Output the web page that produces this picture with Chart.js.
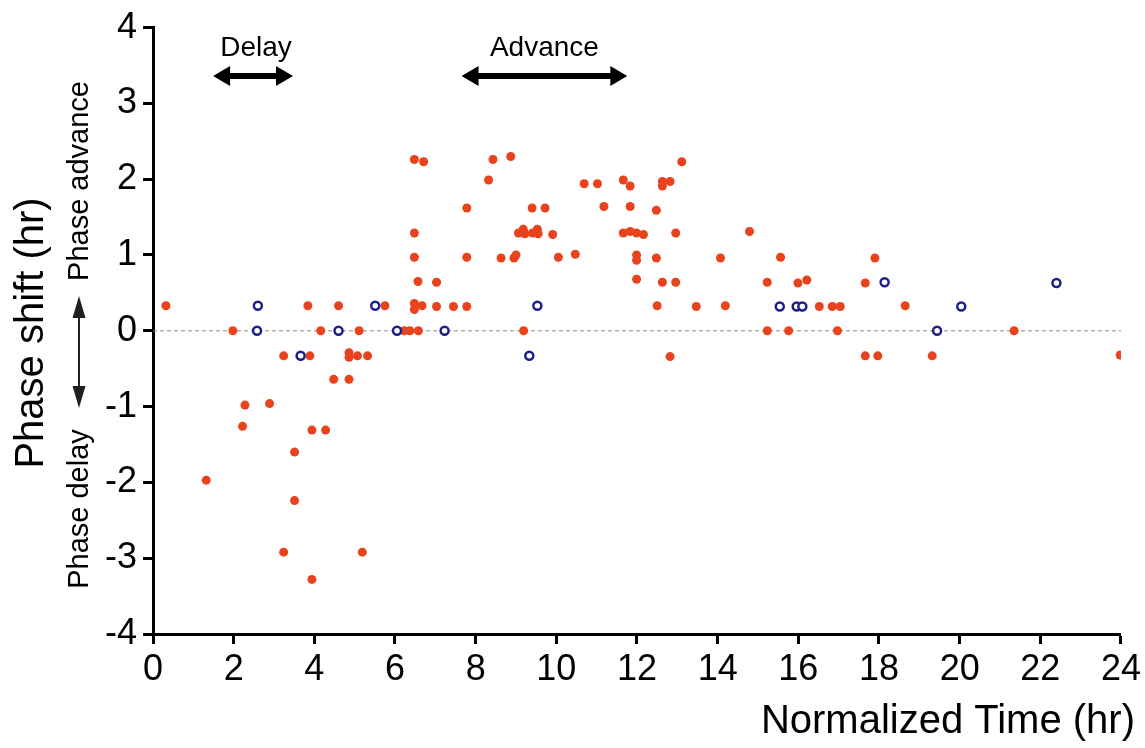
<!DOCTYPE html>
<html>
<head>
<meta charset="utf-8">
<script src="https://cdn.jsdelivr.net/npm/chart.js@4"></script>
<style>
  html, body { margin: 0; padding: 0; background: #fff; }
</style>
</head>
<body>
<canvas id="chart" width="1145" height="748"></canvas>
<script>
// phase shift data (hr)
const redX = [0.32, 1.32, 1.98, 2.22, 2.28, 2.89, 3.24, 3.24, 3.51, 3.51, 3.84, 3.89, 3.94, 3.94, 4.16, 4.28,
  4.48, 4.60, 4.86, 4.86, 4.86, 5.07, 5.11, 5.19, 5.32, 5.75, 6.23, 6.37, 6.58, 6.48, 6.48, 6.67, 6.57, 6.48,
  6.48, 6.48, 6.71, 7.03, 7.03, 7.45, 7.78, 7.78, 7.78, 8.32, 8.43, 8.63, 8.87, 8.95, 9.00, 9.06, 9.18, 9.22,
  9.41, 9.53, 9.55, 9.19, 9.40, 9.72, 9.91, 10.05, 10.47, 10.69, 11.02, 11.18, 11.66, 11.83, 11.83, 11.66,
  11.83, 11.99, 12.16, 11.99, 11.99, 11.99, 12.48, 12.48, 12.50, 12.63, 12.63, 12.82, 12.63, 12.82, 12.96,
  12.96, 13.11, 13.47, 14.07, 14.19, 14.79, 15.23, 15.23, 15.56, 15.76, 15.99, 16.21, 16.52, 16.84, 16.97,
  17.04, 17.66, 17.66, 17.90, 17.97, 18.65, 19.32, 21.35, 23.98];
const redY = [0.33, -1.97, 0, -1.26, -0.98, -0.96, -0.33, -2.92, -1.60, -2.24, 0.33, -0.33, -1.31, -3.28, 0, -1.31,
  -0.64, 0.33, -0.29, -0.35, -0.64, -0.33, 0, -2.92, -0.33, 0.33, 0, 0, 0, 0.36, 0.28, 0.33, 0.65, 0.97,
  1.29, 2.26, 2.23, 0.64, 0.32, 0.32, 0.32, 0.97, 1.62, 1.99, 2.26, 0.96, 2.30, 0.96, 1.00, 1.29, 1.34, 1.28,
  1.29, 1.34, 1.28, 0, 1.62, 1.62, 1.27, 0.97, 1.01, 1.94, 1.94, 1.64, 1.99, 1.91, 1.64, 1.29,
  1.31, 1.29, 1.27, 1.00, 0.93, 0.68, 1.59, 0.96, 0.33, 1.97, 1.91, 1.97, 0.64, -0.34, 1.29,
  0.64, 2.23, 0.32, 0.96, 0.33, 1.31, 0.64, 0, 0.97, 0, 0.63, 0.67, 0.32, 0.32, 0,
  0.32, 0.63, -0.33, 0.96, -0.33, 0.33, -0.33, 0, -0.32];

const blueX = [2.60, 2.58, 3.66, 4.60, 5.51, 6.05, 7.23, 9.33, 9.53, 15.54, 15.96, 16.10, 18.14, 19.44, 20.04, 22.40];
const blueY = [0.33, 0, -0.33, 0, 0.33, 0, 0, -0.33, 0.33, 0.32, 0.32, 0.32, 0.64, 0, 0.32, 0.63];

const xRange = [0, 24];
const yRange = [-4, 4];
const zeroLine = [0, 24];

// annotation arrows over the plot
const delayRange = [1.49, 3.47];
const advanceRange = [7.65, 11.76];
const arrowLevel = 3.36;
const labelLevel = 3.62;

const FONT = "'Liberation Sans', Arial, sans-serif";

function toPoints(xs, ys) {
  return xs.map((x, i) => ({ x: x, y: ys[i] }));
}

function hArrow(ctx, x1, x2, y) {
  const head = 17, half = 10, shaft = 3;
  ctx.beginPath();
  ctx.moveTo(x1, y);
  ctx.lineTo(x1 + head, y - half);
  ctx.lineTo(x1 + head, y - shaft);
  ctx.lineTo(x2 - head, y - shaft);
  ctx.lineTo(x2 - head, y - half);
  ctx.lineTo(x2, y);
  ctx.lineTo(x2 - head, y + half);
  ctx.lineTo(x2 - head, y + shaft);
  ctx.lineTo(x1 + head, y + shaft);
  ctx.lineTo(x1 + head, y + half);
  ctx.closePath();
  ctx.fill();
}

function vArrow(ctx, x, y1, y2) {
  const head = 22, half = 6.5;
  ctx.fillRect(x - 1, y1 + head - 1, 2, y2 - y1 - 2 * head + 2);
  ctx.beginPath();
  ctx.moveTo(x, y1);
  ctx.lineTo(x + half, y1 + head);
  ctx.lineTo(x - half, y1 + head);
  ctx.closePath();
  ctx.fill();
  ctx.beginPath();
  ctx.moveTo(x, y2);
  ctx.lineTo(x + half, y2 - head);
  ctx.lineTo(x - half, y2 - head);
  ctx.closePath();
  ctx.fill();
}

function rotText(ctx, text, x, y, size) {
  ctx.save();
  ctx.translate(x, y);
  ctx.rotate(-Math.PI / 2);
  ctx.font = size + "px " + FONT;
  ctx.textAlign = "center";
  ctx.textBaseline = "alphabetic";
  ctx.fillText(text, 0, 0);
  ctx.restore();
}

const annotations = {
  id: "annotations",
  afterDraw(chart) {
    const ctx = chart.ctx;
    const xs = chart.scales.x, ys = chart.scales.y;
    const area = chart.chartArea;
    ctx.save();
    ctx.fillStyle = "#000";

    // Delay / Advance arrows
    hArrow(ctx, xs.getPixelForValue(delayRange[0]), xs.getPixelForValue(delayRange[1]), ys.getPixelForValue(arrowLevel));
    hArrow(ctx, xs.getPixelForValue(advanceRange[0]), xs.getPixelForValue(advanceRange[1]), ys.getPixelForValue(arrowLevel));
    ctx.font = "28px " + FONT;
    ctx.textAlign = "center";
    ctx.textBaseline = "alphabetic";
    ctx.fillText("Delay", xs.getPixelForValue((delayRange[0] + delayRange[1]) / 2) + 3, ys.getPixelForValue(labelLevel));
    ctx.fillText("Advance", xs.getPixelForValue((advanceRange[0] + advanceRange[1]) / 2), ys.getPixelForValue(labelLevel));

    // y axis titles
    rotText(ctx, "Phase shift (hr)", 43, 333, 40);
    rotText(ctx, "Phase advance", 88, 181, 29);
    rotText(ctx, "Phase delay", 88, 509, 29);
    ctx.fillStyle = "#231f20";
    vArrow(ctx, 79, 296, 408);

    // x axis title
    ctx.fillStyle = "#000";
    ctx.font = "40px " + FONT;
    ctx.textAlign = "right";
    ctx.fillText("Normalized Time (hr)", 1135, 733);
    ctx.restore();
  }
};

new Chart(document.getElementById("chart").getContext("2d"), {
  type: "scatter",
  data: {
    datasets: [
      {
        type: "line",
        data: toPoints(zeroLine, [0, 0]),
        borderColor: "#8a8a8a",
        borderWidth: 1,
        borderDash: [4, 3],
        pointRadius: 0,
        order: 3,
      },
      {
        data: toPoints(redX, redY),
        backgroundColor: "#e8431d",
        borderWidth: 0,
        pointRadius: 4.5,
        order: 2,
      },
      {
        data: toPoints(blueX, blueY),
        backgroundColor: "#ffffff",
        borderColor: "#1f1f8c",
        borderWidth: 2.5,
        pointRadius: 4,
        order: 1,
      },
    ],
  },
  options: {
    responsive: false,
    animation: false,
    layout: { padding: { top: 27, right: 22, left: 0, bottom: 0 } },
    plugins: { legend: { display: false }, tooltip: { enabled: false } },
    scales: {
      x: {
        type: "linear",
        min: xRange[0],
        max: xRange[1],
        ticks: { stepSize: 2, color: "#000", padding: 4, font: { family: FONT, size: 36 } },
        grid: { drawOnChartArea: false, tickLength: 10, tickWidth: 3, color: "#000" },
        border: { width: 3, color: "#000" },
        afterFit: (scale) => { scale.height = 114; },
      },
      y: {
        min: yRange[0],
        max: yRange[1],
        ticks: { stepSize: 1, color: "#000", padding: 6, font: { family: FONT, size: 36 } },
        grid: { drawOnChartArea: false, tickLength: 10, tickWidth: 3, color: "#000" },
        border: { width: 3, color: "#000" },
        afterFit: (scale) => { scale.width = 153; },
      },
    },
  },
  plugins: [annotations],
});
</script>
</body>
</html>
